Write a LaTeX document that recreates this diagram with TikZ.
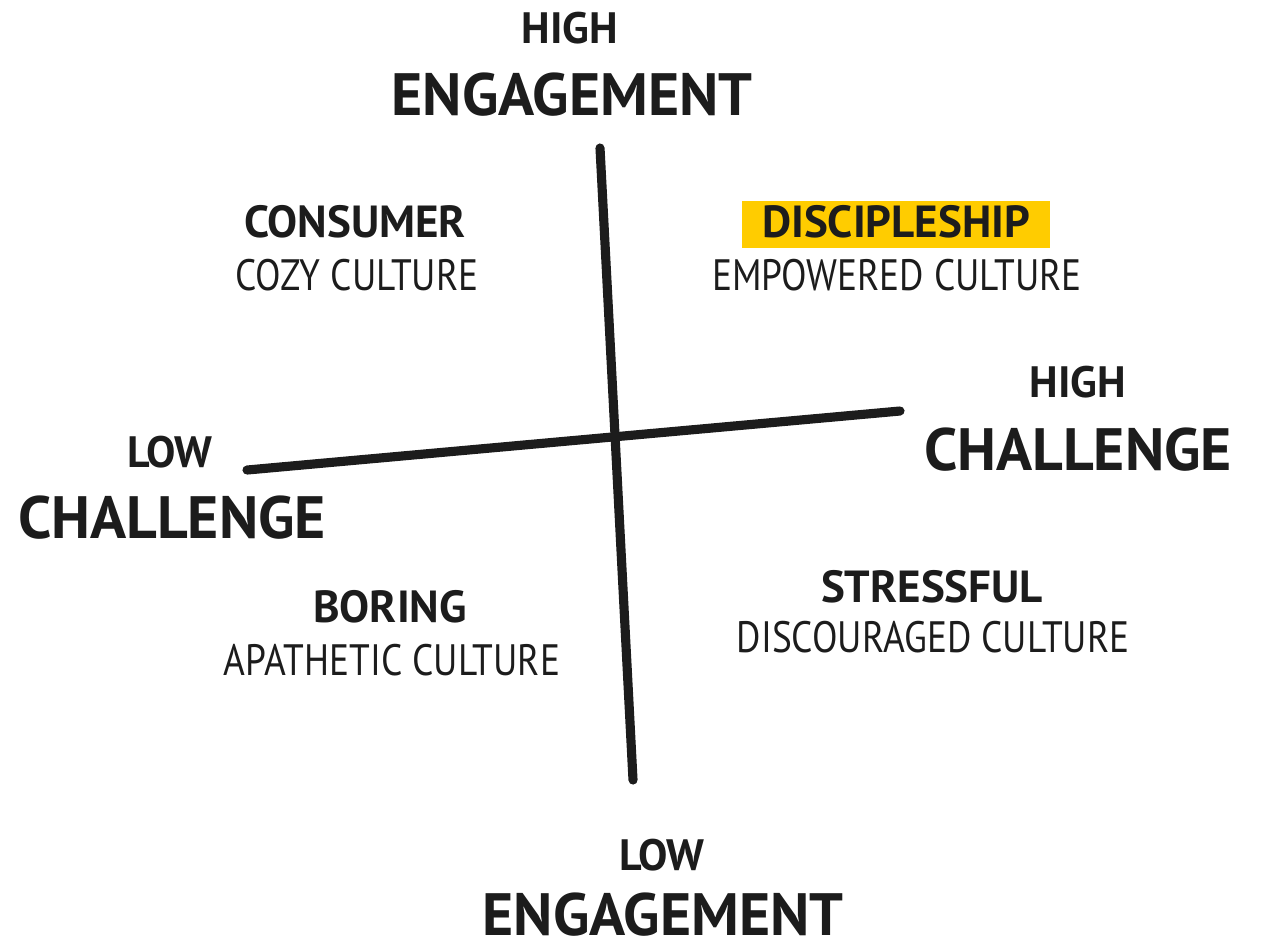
\documentclass[tikz,border=0pt]{standalone}
\usepackage{fontspec}
\setmainfont{PT Sans}
\definecolor{ink}{HTML}{1C1C1C}
\definecolor{marker}{HTML}{FFCC00}

\begin{document}
\begin{tikzpicture}[x=0.1mm, y=-0.1mm, axis/.style={line width=2.6pt, ink, line cap=round},
    big/.style={font=\bfseries\fontsize{17}{18}\selectfont, text=ink, inner sep=0pt},
    small/.style={font=\bfseries\fontsize{12.5}{14}\selectfont, text=ink, inner sep=0pt},
    quad/.style={font=\bfseries\fontsize{12.8}{14}\selectfont, text=ink, inner sep=0pt},
    culture/.style={font=\fontsize{12.5}{14}\selectfont, text=ink, inner sep=0pt, xscale=0.85}]
    \useasboundingbox (0,0) rectangle (1264,948);
    \coordinate (eTop) at (600,148);
    \coordinate (eBot) at (633,780);
    \coordinate (cLeft) at (247,470);
    \coordinate (cRight) at (900,411);
    \draw[axis] (eTop) -- (eBot);
    \draw[axis] (cLeft) -- (cRight);
    \node[small] (hiE) at (570,28) {HIGH};
    \node[big] (engTop) at (572,95) {ENGAGEMENT};
    \node[small] (loE) at (662,855) {LOW};
    \node[big] (engBot) at (663,915) {ENGAGEMENT};
    \node[small] (hiC) at (1078,382) {HIGH};
    \node[big] (chRight) at (1078,450) {CHALLENGE};
    \node[small] (loC) at (170,452) {LOW};
    \node[big] (chLeft) at (172,518) {CHALLENGE};
    \node[quad] (consumer) at (355,222) {CONSUMER};
    \node[culture] (cozy) at (357,275) {COZY CULTURE};
    \node[fill=marker, inner sep=0pt, minimum height=47*0.1mm, minimum width=308*0.1mm] (hl) at (896,224) {};
    \node[quad] (disc) at (896,222) {DISCIPLESHIP};
    \node[culture] (empower) at (897,275) {EMPOWERED CULTURE};
    \node[quad] (boring) at (390,607) {BORING};
    \node[culture] (apathy) at (392,660) {APATHETIC CULTURE};
    \node[quad] (stress) at (932,587) {STRESSFUL};
    \node[culture] (discour) at (933,637) {DISCOURAGED CULTURE};
\end{tikzpicture}
\end{document}
